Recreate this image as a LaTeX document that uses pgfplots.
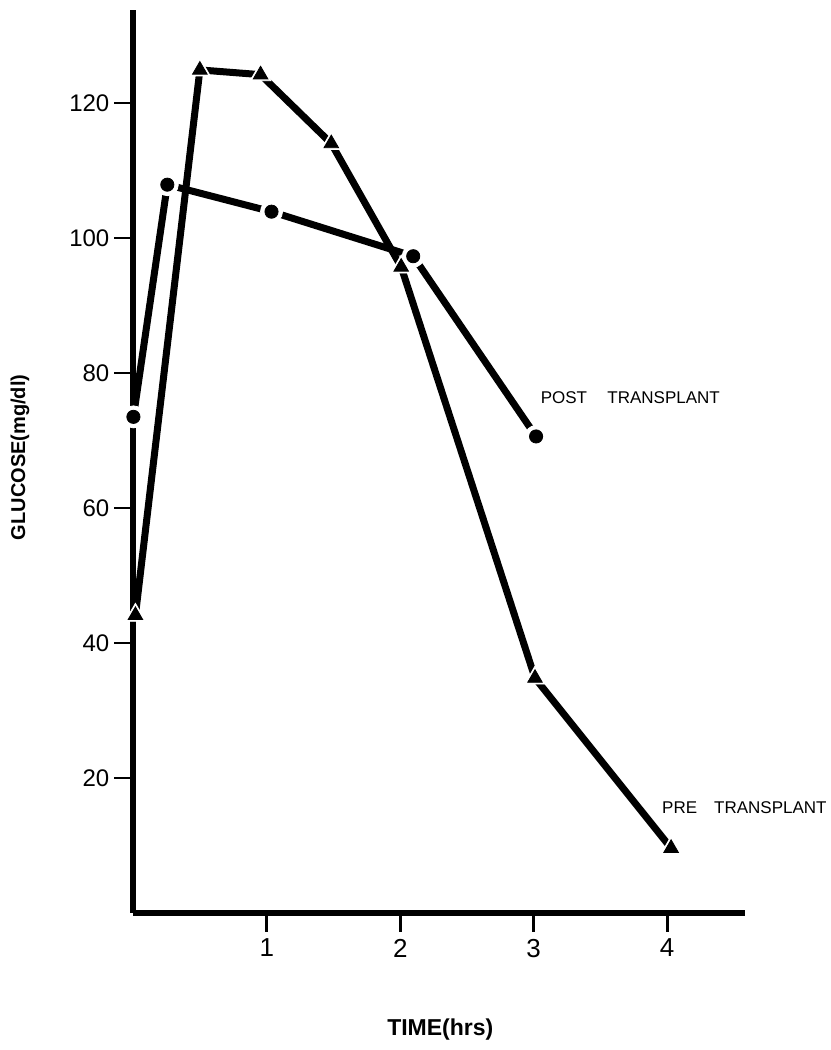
\documentclass[border=0pt]{standalone}
\usepackage{fontspec}
\setmainfont{Liberation Sans}
\usepackage{pgfplots}
\pgfplotsset{compat=1.18}
\begin{document}
\begin{tikzpicture}
\pgfplotstableread{
x y
0.015 44.1
0.498 124.9
0.953 124.2
1.483 114.0
2.007 95.7
3.01 34.8
4.03 9.6
}\pre
\pgfplotstableread{
x y
0.0 73.5
0.254 107.9
1.035 103.9
2.097 97.3
3.018 70.6
}\post
\begin{axis}[
  scale only axis,
  width=305.5pt, height=451.5pt,
  xmin=0, xmax=4.58, ymin=0, ymax=133.8,
  axis lines=left,
  axis line style={-, line width=3pt},
  clip=false,
  xtick={1,2,3,4},
  ytick={20,40,60,80,100,120},
  tick align=outside,
  major tick length=9.5pt,
  tick style={line width=1.4pt, black},
  /pgf/number format/assume math mode=true,
  xticklabel style={font=\fontsize{13}{14}\selectfont, yshift=0pt},
  yticklabel style={font=\fontsize{12}{13}\selectfont, xshift=1pt},
  xlabel={\textbf{TIME(hrs)}},
  xlabel style={font=\fontsize{11.5}{12}\selectfont, at={(axis cs:2.3,-18.1)}, anchor=base},
  ylabel={\textbf{GLUCOSE(mg/dl)}},
  ylabel style={font=\fontsize{10}{11}\selectfont, at={(axis cs:-0.85,67.5)}, anchor=center},
]
\path (axis cs:-1,-20.3) rectangle (axis cs:5.224,135.26);
\addplot[black, line width=3.5pt, line join=round] table {\pre};
\addplot[black, line width=3.5pt, line join=round] table {\post};
\addplot[only marks, mark=triangle*, mark size=6pt, white, mark options={fill=white, draw=white}] table {\pre};
\addplot[only marks, mark=*, mark size=5.5pt, white, mark options={fill=white, draw=white}] table {\post};
\addplot[only marks, mark=triangle*, mark size=4.2pt, black, mark options={fill=black}] table {\pre};
\addplot[only marks, mark=*, mark size=3.3pt, black, mark options={fill=black}] table {\post};
\node[anchor=west, font=\fontsize{8.5}{10}\selectfont] at (axis cs:3.0,76.3) {POST\hspace{1.2em}TRANSPLANT};
\node[anchor=west, font=\fontsize{8.5}{10}\selectfont, inner sep=0pt] at (axis cs:3.96,15.6) {PRE\hspace{1em}TRANSPLANT};
\end{axis}
\end{tikzpicture}
\end{document}
